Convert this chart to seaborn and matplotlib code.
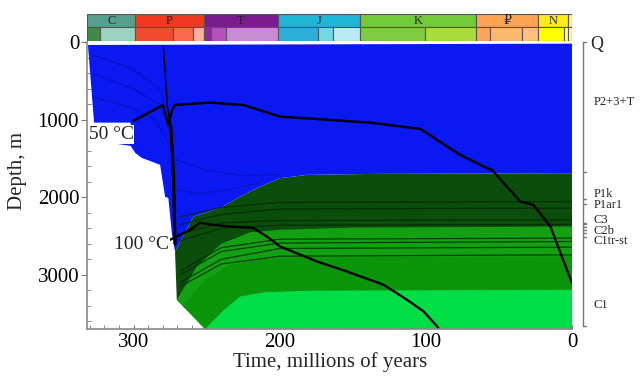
import numpy as np
import matplotlib
matplotlib.use("Agg")
import matplotlib.pyplot as plt
import matplotlib.transforms as mtransforms
import seaborn as sns

# geological time scale (Ma)
period_names = ['C', 'P', 'T', 'J', 'K', '\u20bd', 'N', '']
period_start = [331.5, 298.9, 251.9, 201.3, 145.0, 66.0, 23.03, 2.58]
period_end = [298.9, 251.9, 201.3, 145.0, 66.0, 23.03, 2.58, 0.0]
period_colors = ['#55a08c', '#f03a20', '#7b1b90', '#1eb5d6', '#72cb36', '#fda352', '#ffec12', '#f9f97f']

epoch_start = [331.5, 323.2, 298.9, 273.0, 259.5, 251.9, 247.2, 237.0, 201.3, 174.1, 163.5,
               145.0, 100.5, 66.0, 56.0, 33.9, 23.03, 5.33, 2.58]
epoch_end = [323.2, 298.9, 273.0, 259.5, 251.9, 247.2, 237.0, 201.3, 174.1, 163.5, 145.0,
             100.5, 66.0, 56.0, 33.9, 23.03, 5.33, 2.58, 0.0]
epoch_colors = ['#3f8a46', '#9cd2c0', '#f24a2e', '#fb6b4b', '#fbb0a0', '#8a2a9a', '#b252ba',
                '#c98cd2', '#2ab0d8', '#72d8e4', '#bceaf4', '#7ecc40', '#a8dc3a', '#fda55a',
                '#fdb870', '#fdc182', '#ffff00', '#ffff90', '#fff2ae']

# basin geometry (time Ma, depth m)
surface_t = [0.0, 331.2]
surface_d = [15, 32]
blue_west_t = [331.2, 327.0, 302.0, 302.0, 315.0, 315.0, 302.0, 298.8, 294.4, 281.8, 278.4, 276.2, 273.8]
blue_west_d = [32, 1035, 1035, 1260, 1270, 1300, 1335, 1426, 1490, 1580, 1994, 2006, 2458]
green_top_t = [271.6, 259.0, 240.8, 227.0, 213.4, 199.7, 181.4, 136.0, 0.0]
green_top_d = [2700, 2248, 2139, 1990, 1861, 1752, 1710, 1697, 1688]
basin_edge_t = [271.6, 270.4, 251.0]
basin_edge_d = [2700, 3322, 3700]

# layer boundaries inside the green part
b1_t = [270.4, 256.7, 240.0, 220.0, 199.7, 150.0, 0.0]
b1_d = [3322, 2893, 2600, 2450, 2419, 2390, 2377]
b2_t = [266.4, 250.0, 235.0, 215.0, 190.0, 0.0]
b2_d = [3400, 3050, 2880, 2800, 2775, 2764]
b3_t = [251.0, 238.0, 227.0, 210.0, 180.0, 0.0]
b3_d = [3700, 3450, 3280, 3225, 3205, 3194]

# thin sub-layer lines (depths at these times)
thin_t = [268.0, 240.0, 200.0, 0.0]
thin_d = [[2250, 2130, 2065, 2054],
          [2350, 2220, 2150, 2140],
          [2470, 2330, 2300, 2290],
          [2560, 2400, 2360, 2350],
          [2950, 2650, 2540, 2526],
          [3000, 2700, 2590, 2570],
          [3100, 2800, 2660, 2643],
          [3150, 2860, 2760, 2742]]

# faint sub-layer lines inside the upper (blue) unit
faint_lines = [([329.0, 300.0, 282.0, 276.0], [150, 350, 600, 900]),
               ([328.0, 300.0, 282.0, 276.0], [400, 600, 800, 1100]),
               ([328.0, 300.0, 285.0, 276.0], [700, 850, 1000, 1300]),
               ([272.5, 250.0, 225.0, 200.0], [1500, 1650, 1720, 1705]),
               ([272.5, 255.0, 235.0, 215.0], [1900, 1950, 1900, 1820])]

# isotherms
iso50_t = [300.1, 281.8, 279.8, 276.2, 273.6, 271.6, 247.6, 225.0, 199.7, 186.0, 138.0, 103.8,
           92.3, 76.4, 58.1, 54.7, 46.9, 35.3, 26.4, 14.7, 7.9, 0.0]
iso50_d = [1013, 828, 806, 1065, 871, 806, 777, 806, 957, 974, 1035, 1116,
           1258, 1452, 1623, 1645, 1813, 2054, 2097, 2377, 2716, 3103]
iso100_t = [275.0, 261.3, 254.5, 245.3, 233.9, 218.2, 208.8, 199.7, 174.5, 154.0, 128.9,
            112.9, 101.5, 92.3, 90.8]
iso100_d = [2548, 2419, 2329, 2355, 2377, 2394, 2506, 2635, 2828, 2957, 3129,
            3323, 3474, 3667, 3710]
tip_upper_t = [279.6, 276.8, 274.5]
tip_upper_d = [54, 828, 1086]
tip_lower_t = [274.5, 272.7, 271.6]
tip_lower_d = [1086, 1688, 2600]

# formation column on the right
form_names = ['Q', 'P2+3+T', 'P1k', 'P1ar1', 'C3', 'C2b', 'C1tr-st', 'C1']
form_label_d = [32, 764, 1955, 2097, 2290, 2430, 2570, 3387]
form_ticks_d = [0, 1667, 2023, 2084, 2325, 2346, 2377, 2419, 2462, 2514, 3658]

sns.set_style('ticks')
plt.rcParams['font.family'] = ['Liberation Serif', 'DejaVu Serif']

fig = plt.figure(figsize=(6.4, 3.76), dpi=100)
ax = fig.add_axes([0.1367, 0.125, 0.757, 0.762])
ax_ts = fig.add_axes([0.1367, 0.891, 0.757, 0.072])

# green layers
dark = list(zip(green_top_t[::-1], green_top_d[::-1])) + list(zip(basin_edge_t, basin_edge_d)) + [(0.0, 3700)]
ax.fill(*zip(*dark), color='#0b4e0b', lw=0)
for bt, bd, col in [(b1_t, b1_d, '#13a013'), (b2_t, b2_d, '#0b950b'), (b3_t, b3_d, '#00de46')]:
    px = list(bt) + [0.0, 251.0]
    py = list(bd) + [3700, 3700]
    ax.fill(px, py, color=col, lw=0)
for row in thin_d:
    ax.plot(thin_t, row, color='#012801', lw=0.9, alpha=0.8)

# upper unit
blue_t = surface_t + blue_west_t + green_top_t
blue_d = surface_d + blue_west_d + green_top_d
ax.fill(blue_t, blue_d, color='#0a18f2', lw=0)
for ft, fd in faint_lines:
    ax.plot(ft, fd, color='#000a60', lw=0.8, alpha=0.35)

# isotherms
sns.lineplot(x=iso50_t, y=iso50_d, sort=False, estimator=None, color='black', lw=1.7, ax=ax)
sns.lineplot(x=iso100_t, y=iso100_d, sort=False, estimator=None, color='black', lw=1.7, ax=ax)
sns.lineplot(x=tip_upper_t, y=tip_upper_d, sort=False, estimator=None, color='black', lw=1.0, ax=ax)
sns.lineplot(x=tip_lower_t, y=tip_lower_d, sort=False, estimator=None, color='black', lw=2.3, ax=ax)

ax.text(315.4, 1187, '50 \u00b0C', fontsize=14, ha='center', va='center',
        bbox=dict(boxstyle='square,pad=0.05', facecolor='white', edgecolor='none'))
ax.text(294.4, 2606, '100 \u00b0C', fontsize=14, ha='center', va='center',
        bbox=dict(boxstyle='square,pad=0.05', facecolor='white', edgecolor='none'))

ax.set_xlim(331.5, 0)
ax.set_ylim(3700, 0)
ax.set_xticks([300, 200, 100, 0])
ax.set_yticks([0, 1000, 2000, 3000])
ax.set_xticks(np.arange(0, 331, 10), minor=True)
ax.set_yticks(np.arange(0, 3700, 200), minor=True)
ax.tick_params(axis='both', which='major', labelsize=15, colors='#777', labelcolor='black')
ax.tick_params(axis='x', which='both', direction='in', length=3, pad=3)
ax.tick_params(axis='y', which='major', direction='out', length=4, pad=2)
ax.tick_params(axis='y', which='minor', direction='in', length=3, colors='#777')
ax.tick_params(axis='x', which='minor', colors='#777')
for s in ['top', 'right']:
    ax.spines[s].set_visible(False)
for s in ['left', 'bottom']:
    ax.spines[s].set_color('#888')
    ax.spines[s].set_linewidth(1.2)
ax.set_xlabel('Time, millions of years', fontsize=15, labelpad=0)
ax.set_ylabel('Depth, m', fontsize=15)
ax.yaxis.set_label_coords(-0.125, 0.55)

# formation column
tr = mtransforms.blended_transform_factory(ax.transAxes, ax.transData)
ax.plot([1.0227, 1.0227], [0, 3658], color='#777', lw=1.0, transform=tr, clip_on=False)
for d in form_ticks_d:
    ax.plot([1.0227, 1.029], [d, d], color='#777', lw=1.0, transform=tr, clip_on=False)
for name, d in zip(form_names, form_label_d):
    if name == 'Q':
        ax.text(1.038, d, name, fontsize=13, ha='left', va='center', transform=tr)
    else:
        ax.text(1.045, d, name, fontsize=9, ha='left', va='center', transform=tr)

# time scale bar
ax_ts.barh([1.5] * len(period_start), [s - e for s, e in zip(period_start, period_end)],
           left=period_end, height=1.0, color=period_colors, edgecolor='#555', lw=0.8)
ax_ts.barh([0.5] * len(epoch_start), [s - e for s, e in zip(epoch_start, epoch_end)],
           left=epoch_end, height=1.0, color=epoch_colors, edgecolor='#555', lw=0.8)
for name, s, e in zip(period_names, period_start, period_end):
    ax_ts.text((s + e) / 2, 1.5, name, fontsize=9, ha='center', va='center', color='#222')
ax_ts.set_xlim(331.5, 0)
ax_ts.set_ylim(0, 2)
ax_ts.axis('off')

fig.savefig('out.png', dpi=100)
